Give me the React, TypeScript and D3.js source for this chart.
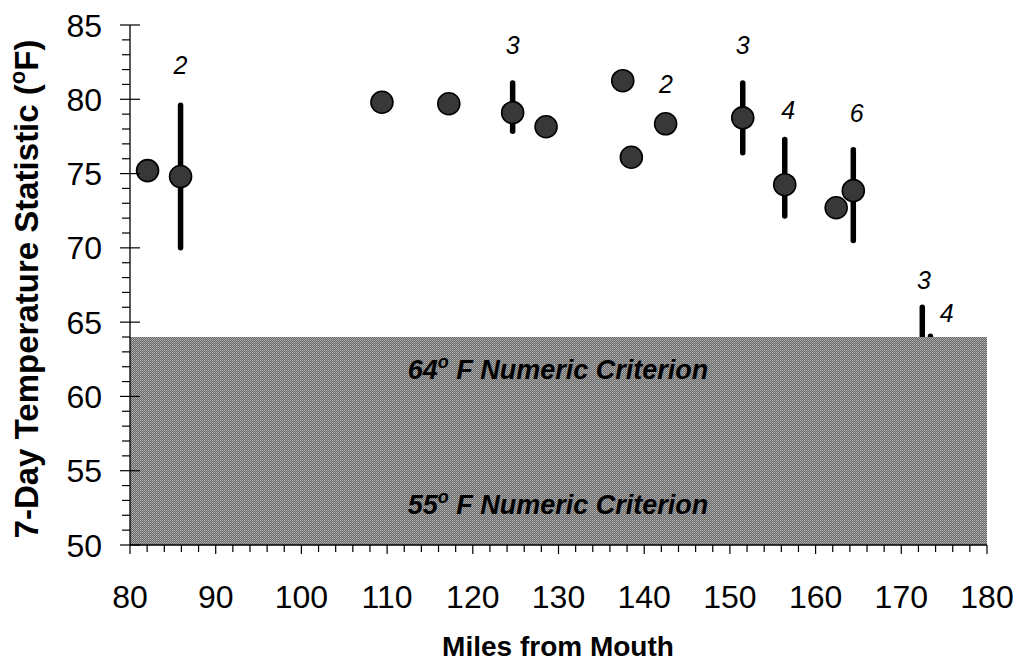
import React from "react";
import * as d3 from "d3";

// Sites: river mile, 7-day statistic, error bar low/high (null = none)
const miles = [82.05, 85.9, 109.4, 117.2, 124.65, 128.55, 137.5, 138.5, 142.5, 151.5, 156.4, 162.4, 164.4, 172.45, 173.4];
const temps = [75.2, 74.8, 79.8, 79.7, 79.1, 78.15, 81.25, 76.1, 78.35, 78.75, 74.25, 72.7, 73.85, 61.5, 60.5];
const errLow: (number | null)[] = [null, 70.0, null, null, 77.85, null, null, null, 78.0, 76.4, 72.15, null, 70.5, 57.5, 57.0];
const errHigh: (number | null)[] = [null, 79.6, null, null, 81.1, null, null, null, 78.7, 81.1, 77.3, null, 76.6, 66.0, 64.05];

// Sample-count annotations (x mile, y value, text)
const noteX = [85.9, 124.65, 142.55, 151.5, 156.8, 164.8, 172.65, 175.3];
const noteY = [82.3, 83.65, 81.05, 83.65, 79.3, 79.1, 67.85, 65.6];
const noteText = ["2", "3", "2", "3", "4", "6", "3", "4"];

const xTicks = [80, 90, 100, 110, 120, 130, 140, 150, 160, 170, 180];
const yTicks = [50, 55, 60, 65, 70, 75, 80, 85];
const criterionTop = 64;
const criterionLabels = [
  { value: 64, y: 61.2 },
  { value: 55, y: 52.1 },
];

export default function App() {
  const x = d3.scaleLinear().domain([80, 180]).range([130, 987]);
  const y = d3.scaleLinear().domain([50, 85]).range([545, 25]);
  const xMinor = d3.range(80, 181, 2);
  const yMinor = d3.range(50, 86, 1);
  const font = "Arial, 'Liberation Sans', Helvetica, sans-serif";

  return (
    <svg width={1016} height={665} style={{ position: "absolute", left: 0, top: 0 }} fontFamily={font}>
      <defs>
        <pattern id="dither" width={2} height={2} patternUnits="userSpaceOnUse">
          <rect width={2} height={2} fill="#6a6a6a" />
          <rect x={0} y={0} width={1} height={1} fill="#b4b4b4" />
          <rect x={1} y={1} width={1} height={1} fill="#9a9a9a" />
        </pattern>
      </defs>
      <rect width={1016} height={665} fill="#fff" />

      {/* error bars */}
      {miles.map((m, i) =>
        errLow[i] != null && errHigh[i] != null ? (
          <line key={"e" + i} x1={x(m)} x2={x(m)} y1={y(errLow[i] as number)} y2={y(errHigh[i] as number)}
            stroke="#000" strokeWidth={5.5} strokeLinecap="round" />
        ) : null
      )}
      {/* points */}
      {miles.map((m, i) => (
        <circle key={"p" + i} cx={x(m)} cy={y(temps[i])} r={11} fill="#383838" stroke="#000" strokeWidth={1.6} />
      ))}

      {/* criterion area */}
      <rect x={x(80)} y={y(criterionTop)} width={x(180) - x(80)} height={y(50) - y(criterionTop)} fill="url(#dither)" />
      {criterionLabels.map((c) => (
        <text key={c.value} x={558} y={y(c.y)} textAnchor="middle" fontSize={27} fontWeight="bold" fontStyle="italic" fill="#000">
          {c.value}
          <tspan fontSize={18} dy={-11}>o</tspan>
          <tspan dy={11}> F Numeric Criterion</tspan>
        </text>
      ))}

      {/* annotations */}
      {noteX.map((nx, i) => (
        <text key={"n" + i} x={x(nx)} y={y(noteY[i])} dy="0.36em" textAnchor="middle" fontSize={25} fontStyle="italic" fill="#000">
          {noteText[i]}
        </text>
      ))}

      {/* axes */}
      <line x1={130} x2={130} y1={y(85)} y2={y(50)} stroke="#000" strokeWidth={1.3} />
      <line x1={130} x2={987} y1={y(50)} y2={y(50)} stroke="#000" strokeWidth={1.3} />
      {yMinor.map((v) => (
        <line key={"ym" + v} x1={v % 5 === 0 ? 120 : 122} x2={v % 5 === 0 ? 140 : 130} y1={y(v)} y2={y(v)} stroke="#000" strokeWidth={1.2} />
      ))}
      {xMinor.map((v) => (
        <line key={"xm" + v} x1={x(v)} x2={x(v)} y1={y(50)} y2={y(50) + (v % 10 === 0 ? 9 : 7)} stroke="#000" strokeWidth={1.2} />
      ))}
      {yTicks.map((v) => (
        <text key={"yt" + v} x={102} y={y(v)} dy="0.36em" textAnchor="end" fontSize={32} fill="#000">{v}</text>
      ))}
      {xTicks.map((v) => (
        <text key={"xt" + v} x={x(v)} y={608} textAnchor="middle" fontSize={32} fill="#000">{v}</text>
      ))}

      <text x={558} y={656} textAnchor="middle" fontSize={28} fontWeight="bold" fill="#000">Miles from Mouth</text>
      <text transform={`translate(38, 289) rotate(-90)`} textAnchor="middle" fontSize={33} fontWeight="bold" fill="#000">
        7-Day Temperature Statistic (
        <tspan fontSize={22} dy={-13}>o</tspan>
        <tspan dy={13}>F)</tspan>
      </text>
    </svg>
  );
}
